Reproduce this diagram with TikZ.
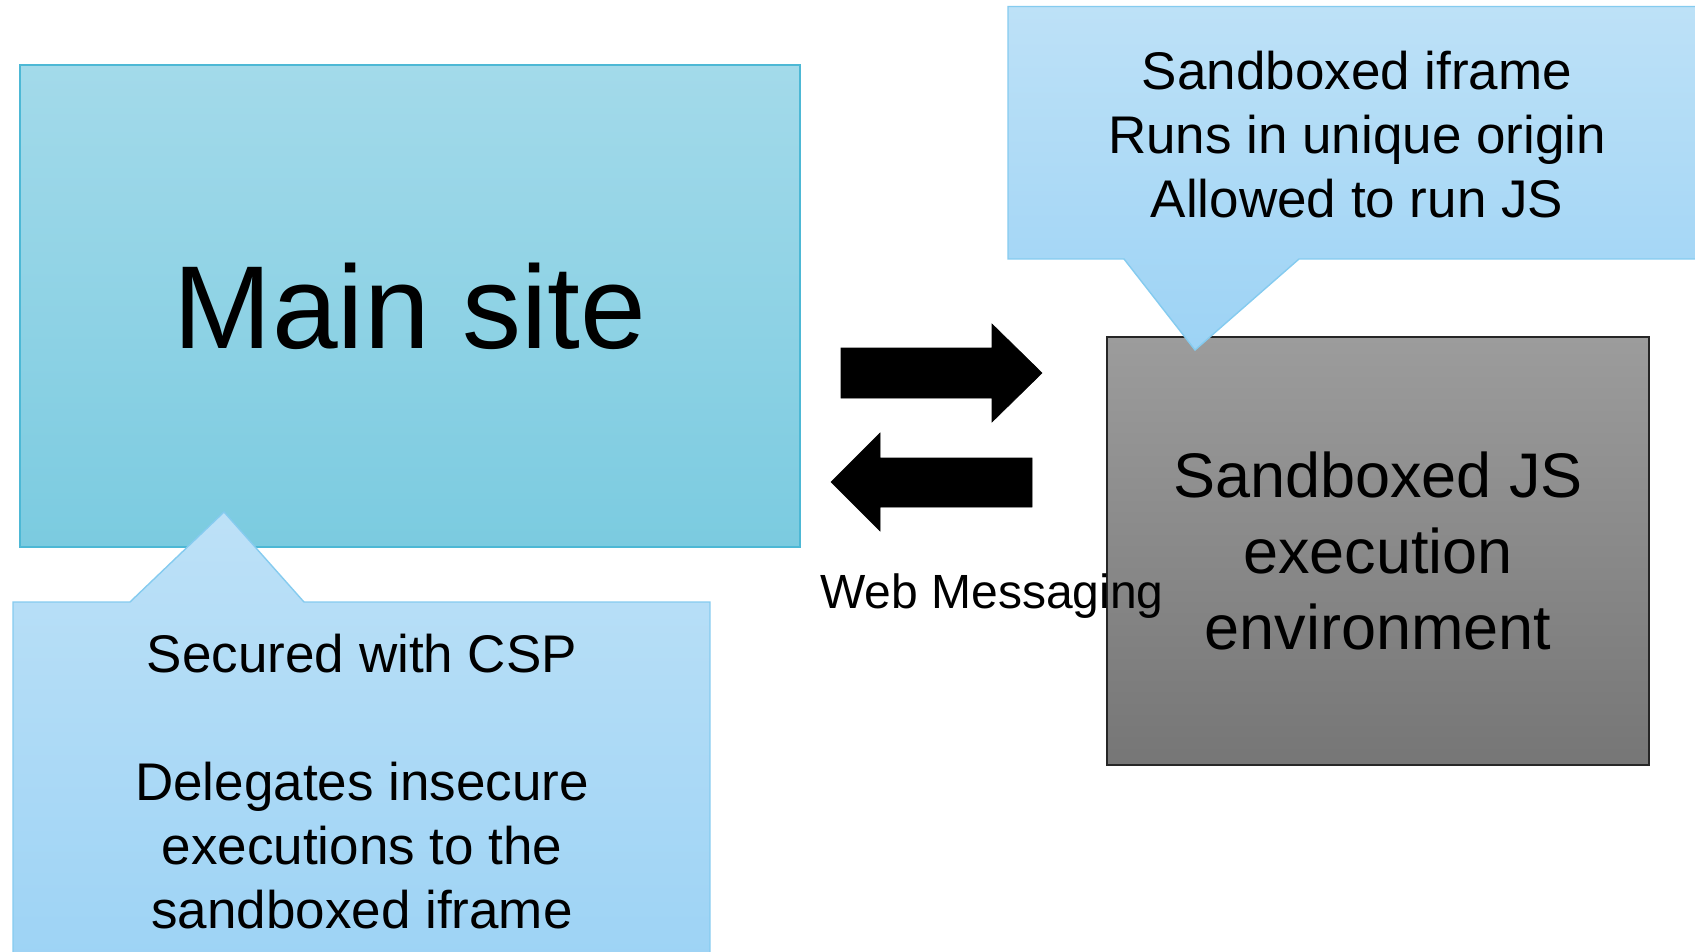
\documentclass[tikz,border=0pt]{standalone}
\usepackage{fontspec}
\setmainfont{Liberation Sans}
\definecolor{mainTop}{HTML}{A3DAEA}
\definecolor{mainBot}{HTML}{7BCBE0}
\definecolor{mainLine}{HTML}{4DB8D5}
\definecolor{callTop}{HTML}{BDE1F7}
\definecolor{callBot}{HTML}{9DD3F5}
\definecolor{callLine}{HTML}{85CBEF}
\definecolor{grayTop}{HTML}{9C9C9C}
\definecolor{grayBot}{HTML}{767676}
\tikzset{
  mainbox/.style={draw=mainLine, line width=1.4pt, top color=mainTop, bottom color=mainBot, minimum width=780pt, minimum height=482pt, inner sep=0pt},
  graybox/.style={draw=black!85, line width=1.4pt, top color=grayTop, bottom color=grayBot, minimum width=542pt, minimum height=428pt, inner sep=0pt, align=center},
  callout/.style={draw=callLine, line width=1.4pt, top color=callTop, bottom color=callBot},
  calltext/.style={align=center, inner sep=0pt, font=\fontsize{53}{64}\selectfont},
  blockarrow/.style={fill=black, draw=black, line width=0.6pt},
}
\begin{document}
\begin{tikzpicture}[x=1pt, y=-1pt]
\useasboundingbox (0,0) rectangle (1695,952);
\clip (0,0) rectangle (1695,952);
% main site
\node[mainbox, font=\fontsize{118}{140}\selectfont] (main) at (410,306) {Main site};
% bottom callout
\path[callout] (13,602) -- (130,602) -- (224,512) -- (304,602) -- (710,602) -- (710,965) -- (13,965) -- cycle;
\node[calltext] (csp) at (362,782) {Secured with CSP\\[64pt]Delegates insecure\\executions to the\\sandboxed iframe};
% sandboxed JS box
\node[graybox, font=\fontsize{63}{76}\selectfont] (sand) at (1378,551) {Sandboxed JS\\execution\\environment};
% top callout
\path[callout] (1008,6.5) -- (1712,6.5) -- (1712,259) -- (1299,259) -- (1195,350) -- (1124,259) -- (1008,259) -- cycle;
\node[calltext] (ifr) at (1357,135) {Sandboxed iframe\\Runs in unique origin\\Allowed to run JS};
% arrows
\path[blockarrow] (841,348) -- (992,348) -- (992,324) -- (1042,373) -- (992,422) -- (992,398) -- (841,398) -- cycle;
\path[blockarrow] (1032,458) -- (880,458) -- (880,433) -- (831,482) -- (880,531) -- (880,507) -- (1032,507) -- cycle;
% label
\node[anchor=base west, inner sep=0pt, font=\fontsize{48}{58}\selectfont] (wm) at (820,608) {Web Messaging};
\end{tikzpicture}
\end{document}
